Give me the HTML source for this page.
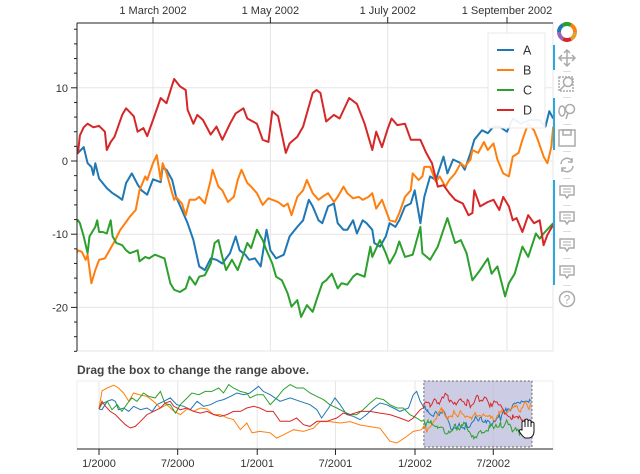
<!DOCTYPE html>
<html><head><meta charset="utf-8"><style>
html,body{margin:0;padding:0;background:#fff;}
svg{display:block;font-family:"Liberation Sans",sans-serif;}
</style></head><body>
<svg id="chart" width="640" height="474" viewBox="0 0 640 474">
<defs>
<clipPath id="mainClip"><rect x="77" y="23" width="476" height="328"/></clipPath>
<clipPath id="rangeClip"><rect x="77" y="381" width="476" height="68"/></clipPath>
</defs>
<g id="main"></g>
<g id="range"></g>
<g id="toolbar"></g>
</svg>
<script>
// ---- data (days since 2000-01-01) ----
const seriesNames = ["A","B","C","D"];
const seriesColors = ["#1f77b4","#ff7f0e","#2ca02c","#d62728"];
const aDays = [0,7,19,30,38,45,57,69,80,96,111,123,134,150,165,180,196,211,227,242,258,273,288,304,319,335,349,369,380,396,419,442,465,488,504,515,531,546,558,573,588,604,619,635,650,665,681,696,716,727,735,743,750,
751,754,756,758,759,760,762,766,769,772,774,776,779,782,784,787,790,794,795,797,800,802,805,808,811,814,817,820,823,826,830,833,835,838,840,843,846,849,851,854,858,861,865,868,871,873,876,878,881,884,886,889,891,894,896,899,901,904,905,908,911,913,916,918,921,924,926,929,931,934,937,941,943,946,950,952,955,957,961,964,967,970,974,977,981,986,991,994,996,998];
const aVals = [0,-0.5,5.5,6.7,5.5,-0.5,0.7,-1.7,1.9,-0.5,0.7,-1.7,3.1,5.5,7.9,3.1,1.9,-0.5,5.5,1.9,3.1,5.5,6.7,9,11.4,10.2,11.4,16.2,12.6,10.2,5.5,7.9,5.5,3.1,-0.5,-6.4,0.7,7.9,3.1,-4,-5.2,-7.6,-4,0.7,4.3,3.1,0.7,-1.7,0.7,10.2,12.6,5.5,1.9,
1.1,1.9,-0.3,-0.8,-1.9,-0.3,-2.4,-3.7,-4.4,-4.9,-5.3,-3.0,-1.7,-3.2,-4.0,-4.6,-2.5,-2.9,-0.9,-1.2,-2.6,-4.9,-6.7,-8.5,-10.8,-14.4,-14.9,-13.3,-13.5,-14.0,-12.6,-10.3,-12.2,-12.8,-13.5,-13.3,-14.4,-9.4,-12.2,-13.3,-12.8,-10.3,-9.0,-8.1,-5.3,-6.2,-8.1,-8.5,-6.2,-5.8,-8.5,-9.4,-9.4,-8.1,-9.9,-8.1,-8.5,-9.4,-11.2,-11.7,-10.3,-8.5,-9.0,-8.1,-6.2,-5.8,-4.0,-8.5,-4.9,-2.1,-2.6,0.6,-1.7,0.2,-0.3,-1.2,1.1,2.9,4.2,3.8,4.7,4.7,4.0,5.8,5.1,5.6,5.6,4.7,6.8,5.8];
const bDays = [0,7,19,34,45,57,69,80,96,111,126,142,157,173,188,204,219,234,250,265,281,296,311,327,342,354,372,396,411,426,450,473,496,511,534,558,581,604,627,650,673,689,712,727,746,
751,753,755,756,758,760,762,765,768,770,773,775,778,781,783,786,787,790,792,794,795,797,800,801,802,805,807,809,812,814,817,820,821,824,826,829,832,834,836,839,841,844,847,850,852,855,858,860,862,865,868,870,873,876,878,881,884,886,889,891,894,897,899,902,904,906,909,911,913,916,918,921,924,925,928,930,931,934,937,939,942,944,947,950,952,955,956,959,962,964,967,969,972,975,977,980,982,985,988,990,993,995,997,998];
const bVals = [0,13,15,17,15,11.4,5.5,11.4,10,9,5.5,0.7,3.1,-1.6,-4,0,-1.6,0.7,0,-4,-4,-6.3,-7.5,-14.7,-10,-17,-16,-17,-20.8,-18.5,-14.8,-16,-13.7,-9,-9,-10,-9,-11.4,-12.6,-13.7,-23,-24.3,-19.6,-16,-14.8,
-12.2,-12.4,-13.5,-12.8,-16.7,-14.9,-13.5,-13.3,-11.9,-11.0,-9.4,-8.7,-7.6,-6.7,-4.0,-2.1,-2.6,-0.3,0.8,-2.6,-0.3,-1.6,-4.4,-5.3,-4.9,-5.8,-7.4,-5.3,-5.3,-4.9,-5.8,-2.6,-1.2,-3.5,-4.0,-5.6,-4.9,-2.6,-1.2,-3.0,-3.5,-4.4,-6.0,-5.1,-5.3,-5.6,-6.2,-5.8,-7.4,-4.9,-4.0,-2.6,-4.4,-5.3,-4.9,-4.4,-5.6,-4.9,-3.5,-4.4,-5.1,-4.9,-5.3,-4.9,-4.4,-6.5,-5.3,-6.7,-8.1,-8.3,-7.1,-4.9,-4.0,-1.7,-2.6,-2.1,-0.8,-0.8,-2.8,-2.1,-3.5,-2.6,-1.7,-0.3,-0.8,0.2,1.5,1.1,2.6,1.5,2.4,0.2,-1.7,-2.1,0.6,1.1,2.9,5.1,4.2,2.9,0.6,-0.3,1.9,4.7];
const cDays = [0,7,19,30,42,53,65,76,88,103,115,130,142,153,165,177,188,204,215,231,246,261,277,288,300,311,327,342,349,365,380,396,411,426,442,457,473,488,504,519,534,550,565,581,596,611,627,642,658,673,689,704,719,735,746,
751,752,754,756,757,760,761,762,764,766,768,769,771,774,776,778,780,782,783,786,788,791,794,796,799,801,804,807,809,812,814,817,820,822,824,826,828,831,834,836,839,841,844,847,849,852,854,857,860,862,865,867,870,873,875,878,880,883,886,888,891,894,896,900,903,904,908,911,913,916,918,921,925,929,930,934,938,943,947,950,953,956,960,964,966,969,973,975,978,982,985,989,991,993,998];
const cVals = [0,3.7,5.5,-0.5,3.1,-1.7,3.7,7.9,5.5,11.4,9,7.9,12.6,3.7,3.1,-2.9,3.1,7.9,11.4,10.2,12.6,12.6,15,11.4,17.4,15,12.6,11.4,7.9,10.2,10.2,3.1,7.9,13.8,17.4,15,15,11.4,9,6.7,3.1,0.7,-1.7,-4,-4,-0.5,4.3,7.9,6.7,3.1,0.7,0.7,-4,-6.4,-8.8,
-8.1,-8.5,-10.3,-12.6,-10.3,-9.0,-8.1,-9.7,-9.7,-9.9,-8.1,-10.3,-11.2,-11.5,-12.2,-12.6,-12.4,-12.2,-13.7,-13.1,-13.3,-12.8,-13.1,-13.3,-16.7,-17.6,-17.9,-17.4,-15.8,-16.9,-15.8,-15.6,-14.0,-11.2,-10.8,-13.1,-14.9,-13.5,-14.9,-13.5,-11.2,-11.9,-9.4,-10.8,-12.2,-14.0,-15.8,-16.3,-18.1,-19.9,-19.0,-21.3,-19.7,-20.6,-19.0,-16.7,-16.3,-15.4,-17.4,-16.7,-16.9,-15.8,-15.4,-15.8,-11.7,-13.1,-10.8,-12.6,-14.0,-12.6,-11.0,-13.1,-12.8,-9.0,-12.6,-13.5,-11.7,-7.8,-11.2,-10.8,-12.6,-16.3,-14.9,-13.3,-15.4,-14.4,-18.5,-16.7,-15.4,-11.7,-13.1,-9.9,-10.6,-9.9,-8.5];
const dDays = [0,7,15,26,38,49,61,72,84,96,111,126,142,153,165,173,188,204,219,234,250,265,281,296,311,327,342,358,372,388,403,419,442,457,473,488,504,527,550,565,581,604,627,650,673,696,716,727,743,
751,752,754,756,759,762,765,766,768,770,774,776,780,782,785,787,790,794,797,800,801,804,807,808,811,813,816,820,823,826,830,833,837,839,844,847,850,852,855,859,861,865,868,873,875,877,880,884,887,892,896,900,904,906,909,912,914,917,921,924,929,932,935,938,941,944,947,951,954,956,957,960,964,967,970,972,975,977,979,982,985,988,991,993,995,998];
const dVals = [0,5.5,1.9,-1.7,-4,-7.6,-11.2,-13.6,-12.4,-8.8,-4,-1.7,0.7,4.3,5.5,1.9,-0.5,0.7,-1.7,-2.9,-1.7,-4,-5.2,-4,-1.7,-1.7,0.7,1.9,0.7,-1.7,-1.7,-8.8,-8.8,-6.4,-11.2,-12.4,-8.8,-8.8,-6.4,-2.9,-4,-1.7,-1.7,-2.9,-4,-6.4,-8.8,-6.4,-0.5,
1.1,3.5,4.6,5.1,4.6,4.8,4.0,1.5,2.6,3.3,6.3,7.2,6.1,4.0,4.5,3.4,5.6,8.6,7.9,10.4,11.2,10.2,9.7,7.0,5.1,6.3,5.6,3.6,4.7,2.9,5.1,6.5,7.2,5.8,5.1,2.9,2.6,6.8,6.1,1.1,2.4,3.3,4.7,9.3,9.7,9.3,5.4,6.3,5.8,8.6,7.8,5.1,1.5,4.0,1.9,4.4,5.8,4.9,5.1,2.9,2.9,1.1,-0.3,-3.5,-3.3,-4.4,-5.3,-5.8,-7.4,-7.1,-4.0,-6.2,-5.6,-5.3,-6.7,-4.9,-6.2,-8.1,-7.8,-9.7,-7.4,-8.5,-8.1,-11.5,-10.1,-8.7];
const mainXTickDays = [790,851,912,974];
const mainXTickLabels = ["1 March 2002","1 May 2002","1 July 2002","1 September 2002"];
const mainYTicks = [10,0,-10,-20];
const rangeXTickDays = [0,182,366,547,731,912];
const rangeXTickLabels = ["1/2000","7/2000","1/2001","7/2001","1/2002","7/2002"];
const selStartDay = 751.5, selEndDay = 1001.5;

// ---- scales ----
const mainX = d => 77 + (d - 750.5) * 1.924;
const mainY = v => 161 - v * 7.32;
const rangeX = d => 99 + d * 0.4323;
const rangeY = v => 409 - v * 1.4;
const NS = "http://www.w3.org/2000/svg";
function mk(parent, tag, attrs, text){
  const e = document.createElementNS(NS, tag);
  for (const k in attrs) e.setAttribute(k, attrs[k]);
  if (text !== undefined) e.textContent = text;
  parent.appendChild(e); return e;
}
const allDays = [aDays,bDays,cDays,dDays];
const allVals = [aVals,bVals,cVals,dVals];

// ---- main plot ----
const main = document.getElementById('main');
mk(main,'rect',{x:77,y:23,width:476,height:328,fill:'#fff',stroke:'#e6e6e6'});
mainXTickDays.forEach((d,i)=>{
  const x = mainX(d);
  const g = mk(main,'line',{x1:x,x2:x,y1:23,y2:351,stroke:'#e5e5e5','stroke-width':1});
  
  
});
for (let v=-26; v<=18; v+=2){
  if (v%10===0){
    const g = mk(main,'line',{x1:77,x2:553,y1:mainY(v),y2:mainY(v),stroke:'#e5e5e5'});
    
    
  }
}
const lines = mk(main,'g',{'clip-path':'url(#mainClip)'});
allDays.forEach((days,s)=>{
  const pts = days.map((d,i)=>mainX(d).toFixed(1)+','+mainY(allVals[s][i]).toFixed(1)).join(' ');
  const p = mk(lines,'polyline',{points:pts,fill:'none',stroke:seriesColors[s],'stroke-width':2,'stroke-linejoin':'round'});
  
  
});
// top axis
mk(main,'line',{x1:77,x2:553,y1:23,y2:23,stroke:'#222','stroke-width':1});
mainXTickDays.forEach((d,i)=>{
  const x = mainX(d);
  mk(main,'line',{x1:x,x2:x,y1:17,y2:23,stroke:'#222'});
  const t = mk(main,'text',{x:x,y:14,'text-anchor':'middle','font-size':11,fill:'#333'},mainXTickLabels[i]);
  
  
});
// left axis
mk(main,'line',{x1:77,x2:77,y1:23,y2:351,stroke:'#222'});
for (let v=-26; v<=18; v+=2){
  const y = mainY(v);
  mk(main,'line',{x1:(v%10===0)?71:74,x2:77,y1:y,y2:y,stroke:'#222'});
}
mainYTicks.forEach(v=>{
  const t = mk(main,'text',{x:68,y:mainY(v)+4,'text-anchor':'end','font-size':11,fill:'#333'},String(v));
  
  
});
// legend
const leg = mk(main,'g',{});


mk(leg,'rect',{x:488,y:33,width:57,height:95,fill:'#fff','fill-opacity':0.92,stroke:'#e8e8e8'});
seriesNames.forEach((n,i)=>{
  const y = 50 + i*20;
  const e = mk(leg,'g',{});
  
  
  mk(e,'line',{x1:497,x2:514,y1:y,y2:y,stroke:seriesColors[i],'stroke-width':2});
  mk(e,'text',{x:523,y:y+4.5,'font-size':12.5,fill:'#333'},n);
});

// ---- range plot ----
const range = document.getElementById('range');
const title = mk(range,'text',{x:77,y:374,'font-size':12,'font-weight':'bold',fill:'#444'},'Drag the box to change the range above.');


mk(range,'rect',{x:77,y:381,width:476,height:68,fill:'#fff',stroke:'#ececec'});
rangeXTickDays.forEach(d=>{
  const g = mk(range,'line',{x1:rangeX(d),x2:rangeX(d),y1:381,y2:449,stroke:'#e5e5e5'});
  
  
});
const box = mk(range,'rect',{x:rangeX(selStartDay),y:381,width:rangeX(selEndDay)-rangeX(selStartDay),height:66,fill:'#b7b7da','fill-opacity':0.7,stroke:'#666','stroke-dasharray':'2,2'});


const rlines = mk(range,'g',{'clip-path':'url(#rangeClip)'});
allDays.forEach((days,s)=>{
  const pts = days.map((d,i)=>rangeX(d).toFixed(1)+','+rangeY(allVals[s][i]).toFixed(1)).join(' ');
  const p = mk(rlines,'polyline',{points:pts,fill:'none',stroke:seriesColors[s],'stroke-width':1});
  
  
});
mk(range,'line',{x1:77,x2:553,y1:449,y2:449,stroke:'#222'});
rangeXTickDays.forEach((d,i)=>{
  const x = rangeX(d);
  mk(range,'line',{x1:x,x2:x,y1:449,y2:455,stroke:'#222'});
  const t = mk(range,'text',{x:x,y:467,'text-anchor':'middle','font-size':11,fill:'#333'},rangeXTickLabels[i]);
  
  
});
// hand cursor
const hand = mk(range,'path',{d:'M522 430 l0 -8 q2 -2 3 0 l0 5 l0 -7 q2 -2 3 0 l0 7 l0 -6 q2 -2 3 0 l0 6 l0 -4 q2 -2 3 0 l0 8 q0 6 -5 7 l-4 0 q-3 -2 -6 -7 q1 -2 3 -1 z',fill:'#fff',stroke:'#111','stroke-width':1});



// ---- toolbar ----
const tb = document.getElementById('toolbar');
const logo = mk(tb,'g',{});


const lc = ["#e0a030","#d62728","#9467bd","#1f77b4","#2ca02c","#ff7f0e"];
lc.forEach((c,i)=>{
  const a0 = i*Math.PI/3, a1 = a0+Math.PI/3;
  mk(logo,'path',{d:`M${567+8*Math.cos(a0)} ${32+8*Math.sin(a0)} A8 8 0 0 1 ${567+8*Math.cos(a1)} ${32+8*Math.sin(a1)}`,fill:'none',stroke:c,'stroke-width':4});
});
[[45,70],[98,150],[180,285]].forEach(r=>{
  mk(tb,'line',{x1:554,x2:554,y1:r[0],y2:r[1],stroke:'#26aae1','stroke-width':2});
});
const icons = [
 ['pan-tool',58],['box-zoom-tool',84],['wheel-zoom-tool',111],['save-tool',138],['reset-tool',165],
 ['hover-tool-a',192],['hover-tool-b',218],['hover-tool-c',245],['hover-tool-d',272],['help-tool',299]];
icons.forEach(([n,y])=>{
  const g = mk(tb,'g',{stroke:'#aaa',fill:'none','stroke-width':1.5});
  
  
  const x=567;
  if(n==='pan-tool'){mk(g,'path',{d:`M${x-8} ${y}h16M${x} ${y-8}v16M${x-5} ${y-3}l-3 3 3 3M${x+5} ${y-3}l3 3-3 3M${x-3} ${y-5}l3-3 3 3M${x-3} ${y+5}l3 3 3-3`});}
  else if(n==='box-zoom-tool'){mk(g,'rect',{x:x-8,y:y-7,width:14,height:14,'stroke-dasharray':'2,1'});mk(g,'circle',{cx:x+1,cy:y-2,r:4.5});mk(g,'line',{x1:x-2,y1:y+1,x2:x-7,y2:y+6});}
  else if(n==='wheel-zoom-tool'){mk(g,'ellipse',{cx:x-5,cy:y,rx:3,ry:5});mk(g,'circle',{cx:x+3,cy:y-2,r:4.5});mk(g,'line',{x1:x+1,y1:y+2,x2:x-1,y2:y+8});}
  else if(n==='save-tool'){mk(g,'rect',{x:x-8,y:y-8,width:16,height:16});mk(g,'rect',{x:x-4,y:y-8,width:8,height:5});}
  else if(n==='reset-tool'){mk(g,'path',{d:`M${x-6} ${y-1}a6 6 0 0 1 11 -3M${x+6} ${y+1}a6 6 0 0 1 -11 3M${x+5} ${y-7}v4h-4M${x-5} ${y+7}v-4h4`});}
  else if(n.startsWith('hover')){mk(g,'path',{d:`M${x-7} ${y-6}h14v9h-5l-2 3-2-3h-5z`});mk(g,'path',{d:`M${x-4} ${y-3}h8M${x-4} ${y}h8`,'stroke-width':1});}
  else {mk(g,'circle',{cx:x,cy:y,r:7.5});mk(g,'text',{x:x,y:y+4.5,'text-anchor':'middle','font-size':12,fill:'#aaa',stroke:'none'},'?');}
  if(n!=='help-tool') mk(tb,'line',{x1:x-4,x2:x+4,y1:y+13.5,y2:y+13.5,stroke:'#ddd'});
});
</script>
</body></html>
